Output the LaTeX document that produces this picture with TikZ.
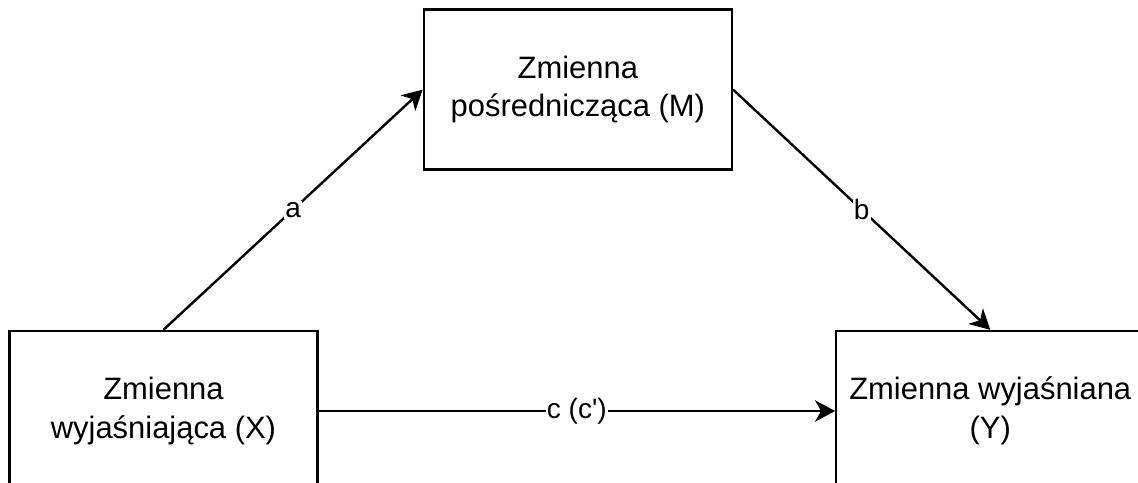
\documentclass[tikz,border=0pt]{standalone}
\usepackage{fontspec}
\setmainfont{Liberation Sans}
\usepackage{tikz}
\usetikzlibrary{arrows.meta,positioning}

\begin{document}
\begin{tikzpicture}[
      box/.style={draw=black, line width=1.8pt, fill=white, align=center,
                  minimum width=231pt, minimum height=120pt,
                  font=\fontsize{23.2pt}{29pt}\selectfont},
      arrow/.style={-{Stealth[length=15pt, width=16pt, inset=4.5pt]}, line width=1.8pt},
      lbl/.style={fill=white, inner sep=1pt, font=\fontsize{21pt}{24pt}\selectfont}
    ]
      \useasboundingbox (0,0) rectangle (853.5pt,-361.5pt);

      \node[box] (xvar) at (122.6pt,-308.25pt) {Zmienna\\wyjaśniająca (X)};
      \node[box, above right=119.25pt and 78pt of xvar] (mvar) {Zmienna\\pośrednicząca (M)};
      \node[box, below right=119.25pt and 76.5pt of mvar] (yvar) {Zmienna wyjaśniana\\(Y)};

      \draw[arrow] (xvar.north) -- node[lbl] {a} (mvar.west);
      \draw[arrow] (mvar.east) -- node[lbl] {b} (yvar.north);
      \draw[arrow] (xvar.east) -- node[lbl] {c (c\textquotesingle)} (yvar.west);
    \end{tikzpicture}
\end{document}
